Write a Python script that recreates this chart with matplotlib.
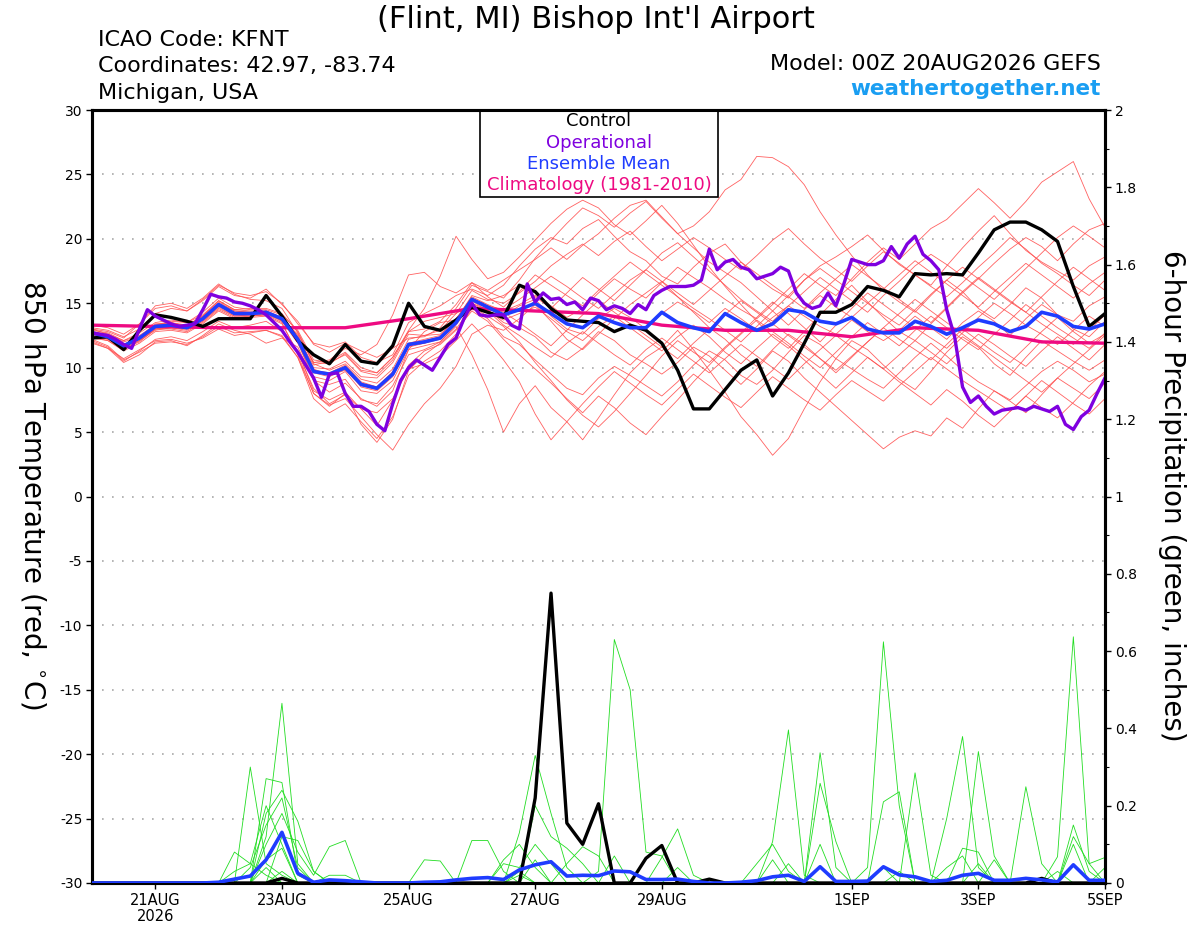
import numpy as np
import matplotlib
matplotlib.use("Agg")
import matplotlib.pyplot as plt
from matplotlib.patches import Rectangle

plt.rcParams['font.family'] = ['DejaVu Sans']

# ---- data (6-hourly from 00Z 20AUG2026 unless noted) ----
CONTROL_T = [
    12.3, 12.4, 11.4, 12.9, 14.1, 13.9, 13.6, 13.2, 13.8, 13.8, 13.8, 15.6, 14.0,
    12.1, 11.0, 10.3, 11.8, 10.5, 10.3, 11.7, 15.0, 13.2, 12.9, 13.7, 14.7, 14.3,
    13.9, 16.4, 15.9, 14.6, 13.7, 13.6, 13.5, 12.8, 13.3, 12.9, 11.9, 9.8, 6.8,
    6.8, 8.3, 9.8, 10.6, 7.8, 9.6, 11.9, 14.3, 14.3, 14.9, 16.3, 16.0, 15.5,
    17.3, 17.2, 17.3, 17.2, 18.9, 20.7, 21.3, 21.3, 20.7, 19.8, 16.3, 13.2, 14.2,
]

MEAN_T = [
    12.7, 12.4, 11.7, 12.3, 13.2, 13.3, 13.1, 13.8, 14.9, 14.2, 14.2, 14.3, 13.8,
    12.2, 9.7, 9.5, 10.0, 8.7, 8.4, 9.5, 11.8, 12.0, 12.3, 13.5, 15.3, 14.7,
    14.1, 14.5, 15.0, 14.2, 13.4, 13.1, 14.0, 13.5, 13.1, 13.1, 14.3, 13.5, 13.1,
    12.8, 14.2, 13.5, 12.9, 13.4, 14.5, 14.3, 13.6, 13.4, 13.9, 13.0, 12.7, 12.7,
    13.6, 13.2, 12.6, 13.1, 13.7, 13.4, 12.8, 13.2, 14.3, 14.0, 13.2, 13.0, 13.4,
]

# operational run is 3-hourly
OPER_T = [
    12.7, 12.6, 12.5, 12.2, 11.8, 11.5, 13.0, 14.5, 14.0, 13.7,
    13.4, 13.2, 13.3, 13.4, 14.5, 15.7, 15.5, 15.4, 15.1, 15.0,
    14.8, 14.5, 14.1, 13.5, 12.9, 12.0, 11.2, 10.2, 9.2, 7.7,
    9.5, 9.6, 8.0, 7.0, 7.0, 6.6, 5.6, 5.1, 7.2, 9.0,
    10.0, 10.6, 10.2, 9.8, 10.8, 11.8, 12.3, 13.8, 15.0, 14.1,
    14.0, 14.1, 14.1, 13.3, 13.0, 16.5, 15.1, 15.8, 15.3, 15.4,
    14.9, 15.1, 14.5, 15.4, 15.2, 14.5, 14.8, 14.6, 14.2, 14.9,
    14.5, 15.6, 16.0, 16.3, 16.3, 16.3, 16.4, 16.8, 19.2, 17.6,
    18.2, 18.4, 17.8, 17.6, 16.9, 17.1, 17.3, 17.8, 17.5, 15.8,
    15.0, 14.6, 14.8, 15.8, 14.8, 16.5, 18.4, 18.2, 18.0, 18.0,
    18.3, 19.4, 18.5, 19.6, 20.2, 18.8, 18.3, 17.6, 14.5, 12.4,
    8.5, 7.3, 7.8, 7.0, 6.4, 6.7, 6.8, 6.9, 6.7, 7.0,
    6.8, 6.6, 7.0, 5.6, 5.2, 6.2, 6.7, 8.0, 9.2,
]

# climatology is daily
CLIMO_T = [13.3, 13.2, 13.1, 13.1, 13.1, 13.8, 14.6, 14.4, 14.2,
           13.3, 12.9, 12.9, 12.4, 13.1, 12.9, 12.0, 11.9]

MEMBERS_T = [
    [13.0, 12.8, 12.3, 13.4, 14.6, 14.8, 14.4, 15.3, 16.4, 15.8, 15.6, 15.9, 15.0,
     13.4, 11.9, 11.6, 12.0, 10.8, 10.4, 11.0, 13.5, 14.2, 14.8, 15.6, 16.1, 15.6,
     16.4, 17.9, 19.2, 20.1, 19.6, 20.8, 21.5, 20.2, 19.0, 18.3, 17.1, 16.5, 17.8,
     18.9, 19.6, 18.2, 17.0, 16.1, 15.4, 16.8, 17.9, 18.6, 19.4, 20.3, 19.1, 18.0,
     17.2, 16.4, 17.9, 19.3, 20.6, 21.8, 20.4, 19.1, 18.2, 17.5, 16.8, 17.9, 18.6],
    [12.2, 11.7, 10.6, 11.2, 11.9, 12.0, 11.8, 12.4, 13.2, 12.7, 12.8, 12.9, 12.4,
     10.8, 7.6, 6.5, 7.2, 5.8, 4.5, 6.2, 9.4, 10.5, 11.3, 12.6, 14.6, 13.8,
     12.4, 11.8, 10.6, 9.5, 8.4, 7.9, 9.2, 10.1, 9.4, 8.6, 7.8, 8.9, 10.2,
     11.3, 10.6, 9.4, 8.7, 9.8, 11.2, 12.5, 11.8, 10.7, 9.9, 9.1, 8.4, 9.6,
     10.8, 11.9, 10.9, 9.8, 8.9, 8.2, 7.5, 8.6, 9.7, 10.5, 9.8, 8.9, 9.5],
    [13.1, 12.9, 12.4, 13.0, 14.2, 14.6, 14.4, 15.2, 16.3, 15.6, 15.4, 16.1, 14.9,
     13.6, 11.8, 11.2, 11.9, 11.3, 10.8, 11.5, 12.3, 12.4, 13.1, 14.6, 16.4, 15.9,
     15.4, 16.8, 18.5, 19.9, 21.2, 22.4, 21.8, 20.9, 22.0, 22.9, 21.6, 20.4, 21.0,
     22.1, 23.8, 24.6, 26.4, 26.3, 25.6, 24.2, 22.1, 20.3, 18.7, 17.2, 16.0, 15.1,
     14.3, 15.6, 16.8, 15.9, 14.6, 13.8, 14.9, 16.2, 15.4, 14.1, 13.6, 14.8, 15.5],
    [12.0, 11.5, 10.4, 11.0, 12.0, 12.1, 11.7, 12.5, 13.4, 12.9, 12.6, 11.9, 12.3,
     11.6, 9.0, 8.7, 9.1, 7.5, 7.2, 8.6, 11.0, 11.4, 12.0, 13.2, 11.0, 8.3,
     5.0, 7.2, 8.6, 6.9, 5.8, 4.4, 6.1, 7.9, 9.6, 10.8, 11.6, 12.9, 11.4,
     9.8, 8.1, 6.2, 4.8, 3.2, 4.5, 6.8, 8.9, 10.7, 12.1, 11.4, 10.2, 9.1,
     8.3, 9.7, 11.2, 12.4, 11.6, 10.3, 9.4, 10.8, 12.1, 11.3, 10.5, 9.8, 10.6],
    [12.6, 12.3, 11.6, 12.2, 13.0, 13.1, 13.0, 13.6, 14.7, 14.0, 14.1, 14.4, 13.9,
     12.3, 9.8, 9.6, 10.2, 8.9, 8.5, 9.7, 11.9, 12.2, 12.5, 13.8, 15.5, 14.9,
     14.4, 14.9, 15.6, 14.8, 13.9, 14.6, 15.8, 16.9, 16.1, 15.4, 16.6, 17.8, 17.0,
     16.2, 15.3, 14.5, 13.8, 14.9, 16.1, 17.3, 16.4, 15.6, 16.9, 18.2, 19.3, 18.4,
     19.6, 20.8, 21.5, 22.7, 23.9, 22.8, 21.6, 22.9, 24.4, 25.2, 26.0, 23.1, 20.9],
    [12.9, 12.7, 12.1, 12.5, 13.3, 13.6, 13.5, 14.1, 15.2, 14.5, 14.4, 14.4, 13.6,
     11.9, 9.3, 9.0, 9.7, 8.2, 8.0, 9.0, 11.4, 11.7, 12.0, 13.3, 15.0, 14.5,
     13.5, 13.1, 12.4, 11.2, 10.6, 11.5, 12.8, 12.1, 11.0, 10.3, 9.5, 10.4, 11.6,
     10.9, 9.8, 8.7, 9.9, 11.3, 10.5, 9.2, 8.1, 7.0, 5.9, 4.8, 3.7, 4.6,
     5.1, 4.7, 6.1, 5.3, 6.8, 8.2, 7.4, 6.5, 7.9, 9.2, 8.4, 7.6, 8.8],
    [12.5, 12.2, 11.5, 12.0, 13.0, 13.2, 13.1, 13.9, 15.0, 14.4, 14.3, 14.4, 13.9,
     12.4, 9.9, 9.4, 9.8, 8.6, 8.3, 9.4, 11.7, 11.9, 12.2, 13.4, 15.2, 14.6,
     14.0, 14.8, 15.3, 14.0, 13.0, 12.6, 13.8, 14.6, 13.9, 13.0, 14.2, 15.1, 14.4,
     13.5, 14.6, 13.8, 12.9, 13.9, 14.8, 14.0, 13.2, 12.6, 13.7, 12.8, 12.1, 12.9,
     14.0, 13.1, 12.2, 13.5, 14.4, 13.6, 12.5, 13.8, 14.9, 14.1, 13.0, 12.4, 13.6],
    [13.3, 13.1, 12.6, 13.4, 14.8, 15.0, 14.6, 15.4, 16.5, 15.7, 15.3, 15.2, 14.6,
     12.7, 10.4, 10.3, 11.1, 9.8, 9.6, 10.8, 12.9, 14.6, 17.1, 20.2, 18.4, 16.9,
     17.4, 18.6, 19.9, 21.2, 22.3, 23.0, 22.4, 21.1, 20.3, 21.4, 22.6, 21.2, 19.5,
     17.8, 16.3, 14.9, 13.6, 12.4, 11.5, 12.8, 14.1, 15.3, 16.4, 15.1, 13.9, 12.8,
     12.1, 13.4, 14.6, 15.8, 16.9, 18.1, 19.2, 20.1, 19.4, 18.3, 19.6, 20.7, 21.2],
    [12.3, 12.1, 11.4, 12.1, 13.0, 13.0, 12.8, 13.5, 14.5, 13.9, 14.0, 14.1, 13.5,
     11.0, 8.0, 7.0, 8.0, 5.6, 4.2, 6.0, 9.8, 11.0, 11.9, 13.0, 14.7, 14.0,
     13.2, 12.0, 10.4, 9.0, 7.5, 6.3, 5.4, 6.6, 8.0, 9.4, 10.9, 12.1, 11.2,
     10.4, 11.6, 12.7, 13.9, 15.1, 14.2, 13.1, 12.0, 13.3, 14.6, 15.8, 14.9, 14.0,
     13.1, 12.3, 11.5, 12.7, 13.9, 15.0, 14.2, 13.3, 12.6, 11.8, 12.9, 14.0, 13.2],
    [11.9, 11.5, 10.7, 11.4, 12.1, 12.2, 11.9, 12.3, 13.0, 12.5, 12.7, 12.9, 12.5,
     10.8, 8.0, 7.1, 7.6, 6.2, 4.8, 3.6, 5.6, 7.2, 8.4, 10.1, 12.6, 13.3,
     12.9, 13.8, 14.9, 13.6, 12.2, 11.4, 12.6, 13.8, 14.9, 15.8, 16.7, 15.5, 14.3,
     13.1, 12.2, 11.0, 10.1, 11.4, 12.6, 11.8, 10.7, 9.6, 10.8, 12.0, 13.1, 12.2,
     11.4, 10.6, 11.8, 13.0, 12.1, 11.2, 10.4, 11.6, 12.8, 13.9, 12.8, 11.9, 12.6],
    [12.8, 12.4, 11.8, 12.4, 13.4, 13.5, 13.3, 14.0, 15.2, 14.5, 14.6, 14.6, 14.2,
     12.8, 10.3, 9.8, 10.3, 9.1, 8.8, 9.9, 12.2, 12.5, 12.9, 14.2, 16.0, 15.3,
     15.0, 15.8, 16.7, 17.9, 18.8, 19.6, 18.7, 19.8, 20.6, 19.4, 18.3, 19.2, 20.1,
     19.3, 18.4, 17.6, 18.7, 19.9, 20.8, 19.6, 18.5, 17.6, 16.7, 17.9, 19.0, 18.1,
     17.2, 16.3, 15.5, 16.6, 17.8, 18.9, 20.1, 19.2, 18.1, 17.3, 16.4, 15.6, 16.8],
    [12.6, 12.2, 11.6, 12.1, 12.9, 13.1, 12.9, 13.6, 14.6, 14.0, 14.0, 14.1, 13.7,
     12.3, 10.2, 10.5, 11.2, 10.0, 9.6, 10.8, 12.8, 13.6, 13.9, 14.2, 15.0, 14.3,
     13.7, 14.2, 14.7, 13.8, 12.8, 12.1, 13.2, 14.0, 13.1, 12.2, 11.3, 12.4, 13.3,
     12.4, 11.2, 10.3, 11.5, 12.6, 11.7, 10.6, 9.5, 8.4, 9.6, 10.8, 9.9, 8.9,
     8.0, 7.1, 8.3, 7.4, 6.3, 5.4, 6.6, 7.8, 6.9, 6.1, 7.3, 8.6, 9.7],
    [12.7, 12.5, 11.8, 12.3, 13.1, 13.4, 13.3, 14.0, 14.8, 14.1, 14.0, 14.2, 13.9,
     12.5, 10.0, 9.9, 10.5, 9.3, 9.2, 10.4, 12.6, 12.5, 12.6, 13.7, 15.4, 14.8,
     14.5, 15.3, 16.2, 17.1, 16.3, 15.4, 14.6, 15.7, 16.8, 17.6, 18.9, 19.7, 18.6,
     17.5, 16.4, 15.3, 14.4, 13.6, 14.8, 15.9, 17.0, 16.1, 15.2, 14.3, 15.6, 16.7,
     17.9, 18.8, 18.0, 17.1, 16.2, 15.3, 16.5, 17.7, 18.9, 20.1, 21.0, 20.2, 19.3],
    [12.4, 12.1, 11.3, 11.9, 12.8, 12.9, 12.7, 13.4, 14.4, 13.8, 13.9, 14.0, 13.4,
     11.2, 8.4, 7.2, 7.9, 6.8, 5.5, 7.5, 10.2, 11.3, 11.8, 12.9, 14.4, 13.6,
     12.2, 11.0, 9.9, 8.8, 7.6, 6.5, 7.8, 6.9, 5.7, 4.8, 6.2, 7.5, 8.9,
     10.2, 11.5, 12.6, 13.7, 12.8, 11.9, 10.9, 10.0, 11.2, 12.4, 13.5, 12.6, 11.7,
     12.9, 14.0, 13.1, 12.2, 11.4, 12.6, 13.7, 14.9, 14.0, 13.1, 12.3, 11.5, 12.7],
    [13.0, 12.6, 12.1, 12.7, 13.5, 13.7, 13.5, 14.3, 15.4, 14.7, 14.5, 14.5, 14.1,
     12.9, 10.6, 10.4, 11.0, 9.7, 9.4, 10.6, 12.8, 13.0, 13.6, 14.9, 16.6, 16.0,
     16.8, 17.6, 18.4, 19.3, 18.4, 19.5, 20.4, 21.6, 22.6, 23.0, 21.7, 20.4, 19.3,
     18.2, 17.4, 16.6, 15.5, 14.4, 13.3, 14.5, 15.6, 14.7, 13.9, 15.0, 16.1, 17.2,
     18.3, 17.4, 16.5, 15.6, 14.7, 15.9, 17.0, 18.1, 17.2, 16.3, 15.4, 16.5, 17.4],
    [12.5, 12.3, 11.6, 12.2, 13.1, 13.2, 13.0, 13.7, 14.8, 14.1, 14.1, 14.2, 13.6,
     12.1, 9.6, 9.3, 9.9, 8.5, 8.2, 9.3, 11.6, 11.9, 12.3, 13.5, 15.2, 14.4,
     13.3, 12.5, 11.6, 10.8, 11.9, 12.8, 11.9, 11.0, 10.2, 11.4, 12.3, 11.4, 10.5,
     9.6, 10.7, 11.8, 10.9, 10.0, 9.1, 10.3, 11.4, 12.5, 11.6, 10.8, 9.9, 11.0,
     12.1, 11.2, 10.3, 11.5, 12.6, 11.8, 10.9, 10.1, 11.3, 12.4, 11.5, 10.6, 11.8],
    [12.8, 12.6, 12.0, 12.4, 13.3, 13.5, 13.2, 14.0, 15.1, 14.4, 14.3, 14.3, 13.7,
     12.6, 10.4, 10.6, 11.5, 11.0, 11.8, 14.1, 17.2, 17.4, 16.3, 15.8, 16.6, 15.5,
     14.7, 15.9, 17.2, 16.4, 15.6, 14.8, 16.0, 17.1, 18.2, 17.3, 16.4, 15.5, 14.6,
     13.8, 12.9, 12.0, 13.2, 14.4, 15.6, 16.8, 17.7, 16.8, 15.9, 15.0, 14.1, 13.3,
     14.5, 15.7, 16.8, 17.8, 16.9, 16.0, 15.1, 14.3, 13.4, 12.6, 11.8, 12.9, 14.1],
    [12.1, 11.6, 10.5, 11.3, 12.2, 12.4, 12.1, 12.8, 13.6, 13.1, 13.3, 13.6, 12.8,
     11.3, 8.2, 7.5, 8.1, 6.8, 6.5, 7.6, 9.9, 10.3, 10.9, 12.1, 13.4, 12.1,
     10.6, 8.9, 6.4, 4.4, 5.8, 7.2, 8.5, 9.7, 8.8, 7.9, 7.1, 8.3, 9.5,
     8.6, 7.7, 6.9, 8.1, 9.3, 8.4, 7.5, 6.7, 7.9, 9.0, 8.2, 7.4, 8.6,
     9.7, 10.8, 9.9, 9.0, 8.2, 7.4, 6.6, 7.8, 9.0, 8.1, 7.2, 6.4, 7.6],
    [12.6, 12.4, 11.7, 12.3, 13.3, 13.4, 13.2, 13.8, 15.0, 14.3, 14.2, 14.3, 13.8,
     12.0, 9.0, 8.1, 8.8, 7.6, 7.0, 8.2, 11.4, 12.8, 13.5, 13.7, 15.6, 15.2,
     15.6, 16.4, 15.5, 14.6, 15.8, 17.0, 16.1, 15.2, 16.4, 17.6, 16.7, 15.8, 14.9,
     16.0, 17.1, 18.2, 17.3, 16.4, 15.5, 14.6, 15.8, 16.9, 18.0, 17.1, 16.2, 15.3,
     14.4, 13.5, 14.7, 15.9, 17.0, 16.1, 15.2, 14.3, 15.5, 16.7, 17.8, 16.9, 16.0],
    [12.7, 12.3, 11.7, 12.2, 13.1, 13.2, 13.1, 13.8, 14.9, 14.2, 14.2, 14.3, 13.8,
     12.2, 9.7, 9.4, 10.1, 8.8, 8.5, 9.6, 11.9, 12.1, 12.4, 13.6, 15.4, 14.8,
     14.3, 13.5, 12.6, 11.7, 12.9, 14.1, 15.2, 14.3, 13.4, 12.5, 11.6, 10.7, 11.9,
     13.0, 14.1, 15.2, 14.3, 13.4, 12.5, 11.6, 10.7, 9.8, 10.9, 12.0, 13.1, 14.2,
     15.3, 14.4, 13.5, 12.6, 11.7, 10.8, 9.9, 9.0, 8.1, 9.2, 10.3, 11.4, 12.5],
]

# 6-hour precipitation (inches): step index -> amount, zero elsewhere
CONTROL_P = {12: 0.012, 28: 0.22, 29: 0.75, 30: 0.155, 31: 0.10, 32: 0.205,
             35: 0.064, 36: 0.097, 39: 0.01, 60: 0.012}

MEAN_P = [
    0, 0, 0, 0, 0, 0, 0, 0, 0.002, 0.01, 0.018, 0.06, 0.131,
    0.025, 0.002, 0.008, 0.006, 0.003, 0, 0, 0, 0.002, 0.003, 0.008, 0.012, 0.014,
    0.009, 0.034, 0.047, 0.055, 0.018, 0.02, 0.019, 0.031, 0.029, 0.009, 0.009, 0.01, 0.004,
    0, 0, 0.002, 0.006, 0.016, 0.02, 0.004, 0.042, 0.004, 0.004, 0.005, 0.042, 0.021,
    0.016, 0.004, 0.007, 0.02, 0.025, 0.007, 0.007, 0.012, 0.008, 0.003, 0.047, 0.007, 0.007,
]

MEMBERS_P = [
    {9: 0.08, 10: 0.05, 11: 0.02, 43: 0.107, 44: 0.396, 45: 0.02},
    {10: 0.30, 11: 0.05, 12: 0.02, 46: 0.337, 47: 0.04},
    {11: 0.27, 12: 0.26, 13: 0.02, 46: 0.258, 47: 0.107},
    {11: 0.12, 12: 0.465, 13: 0.05, 27: 0.03},
    {11: 0.18, 12: 0.24, 13: 0.16, 14: 0.03, 49: 0.04, 50: 0.624, 51: 0.2},
    {10: 0.04, 11: 0.15, 12: 0.22, 13: 0.04, 50: 0.21, 51: 0.236},
    {9: 0.03, 10: 0.05, 11: 0.2, 12: 0.1, 52: 0.285, 53: 0.02},
    {11: 0.1, 12: 0.18, 13: 0.08, 14: 0.02, 15: 0.094, 16: 0.11,
     54: 0.167, 55: 0.379, 56: 0.04},
    {12: 0.12, 13: 0.11, 14: 0.03, 56: 0.34, 57: 0.07},
    {11: 0.06, 12: 0.09, 15: 0.02, 16: 0.02, 59: 0.249, 60: 0.05},
    {21: 0.06, 22: 0.057, 61: 0.068, 62: 0.637, 63: 0.05},
    {24: 0.11, 25: 0.11, 26: 0.03, 62: 0.15, 63: 0.03},
    {27: 0.13, 28: 0.33, 29: 0.18, 30: 0.04, 62: 0.12, 63: 0.05, 64: 0.066},
    {28: 0.2, 29: 0.12, 30: 0.09, 31: 0.05, 42: 0.05, 43: 0.1, 44: 0.03},
    {32: 0.03, 33: 0.63, 34: 0.5, 35: 0.08, 36: 0.07},
    {26: 0.05, 27: 0.04, 28: 0.1, 29: 0.05, 43: 0.06, 46: 0.1, 50: 0.04,
     55: 0.09, 56: 0.08},
    {30: 0.05, 31: 0.094, 32: 0.07, 36: 0.066, 37: 0.14, 38: 0.02},
    {26: 0.06, 27: 0.1, 28: 0.04, 54: 0.04, 55: 0.07, 61: 0.03, 64: 0.04},
    {12: 0.03, 27: 0.02, 44: 0.05, 56: 0.05, 62: 0.1},
    {11: 0.04, 28: 0.06, 33: 0.07, 37: 0.04, 51: 0.03, 57: 0.06},
]

TICK_HOURS = [24, 72, 120, 168, 216, 288, 336, 384]
TICK_LABELS = ["21AUG\n2026", "23AUG", "25AUG", "27AUG", "29AUG", "1SEP", "3SEP", "5SEP"]

N_STEPS = 65

RED = "#ff5050"
GREEN = "#22dd22"
PURPLE = "#7f00df"
BLUE = "#1f3cff"
PINK = "#ee0a82"


def hours(vals, step):
    return np.arange(len(vals)) * step


def sparse_to_series(d):
    arr = np.zeros(N_STEPS)
    for k, v in d.items():
        arr[k] = v
    return arr


W, H = 1200, 927
fig = plt.figure(figsize=(W / 100, H / 100), dpi=100)
ax = fig.add_axes([92 / W, 44 / H, 1013 / W, 773 / H])
ax2 = ax.twinx()

# temperature spaghetti
for m in MEMBERS_T:
    ax.plot(hours(m, 6), m, color=RED, lw=0.6, alpha=0.9, zorder=2)
ax.plot(hours(CLIMO_T, 24), CLIMO_T, color=PINK, lw=2.4, zorder=4)
ax.plot(hours(CONTROL_T, 6), CONTROL_T, color="black", lw=2.4, zorder=5)
ax.plot(hours(MEAN_T, 6), MEAN_T, color=BLUE, lw=2.6, zorder=6)
ax.plot(hours(OPER_T, 3), OPER_T, color=PURPLE, lw=2.4, zorder=7)

# precipitation spaghetti
for d in MEMBERS_P:
    p = sparse_to_series(d)
    ax2.plot(hours(p, 6), p, color=GREEN, lw=0.6, zorder=2)
cp = sparse_to_series(CONTROL_P)
ax2.plot(hours(cp, 6), cp, color="black", lw=2.4, zorder=5)
ax2.plot(hours(MEAN_P, 6), MEAN_P, color=BLUE, lw=2.6, zorder=6)

ax.set_xlim(0, 384)
ax.set_ylim(-30, 30)
ax2.set_ylim(0, 2)

ax.set_yticks(range(-30, 31, 5))
ax.set_yticklabels([str(v) for v in range(-30, 31, 5)], fontsize=10)
ax.yaxis.grid(True, linestyle=(0, (1, 5)), color="#a8a8a8", lw=1.2)
ax.set_axisbelow(True)

ax.set_xticks(TICK_HOURS)
ax.set_xticklabels(TICK_LABELS, fontsize=10.5, linespacing=1.1)

rt = np.round(np.arange(0, 2.01, 0.2), 1)
ax2.set_yticks(rt)
ax2.set_yticklabels([f"{v:g}" for v in rt], fontsize=10)
ax2.set_yticks(np.arange(0.1, 2.0, 0.2), minor=True)

for a in (ax, ax2):
    a.tick_params(direction="out", length=4, width=1, pad=3)
    a.tick_params(which="minor", direction="out", length=3, width=0.8)
    for s in a.spines.values():
        s.set_linewidth(2.2)

# legend box
ax.add_patch(Rectangle(((480 - 92) / 1013, (883 - 197) / 773),
                       238 / 1013, 87 / 773, transform=ax.transAxes,
                       facecolor="white", edgecolor="black", lw=1.2, zorder=20))
leg = [("Control", "black"), ("Operational", PURPLE),
       ("Ensemble Mean", BLUE), ("Climatology (1981-2010)", PINK)]
for k, (txt, col) in enumerate(leg):
    fig.text(599 / W, 1 - (121 + 21.5 * k) / H, txt, color=col, fontsize=13,
             ha="center", va="center", zorder=30)

# header texts
fig.text(596 / W, 1 - 19 / H, "(Flint, MI) Bishop Int'l Airport",
         fontsize=22, ha="center", va="center")
fig.text(98 / W, 1 - 40 / H, "ICAO Code: KFNT", fontsize=16, va="center")
fig.text(98 / W, 1 - 66 / H, "Coordinates: 42.97, -83.74", fontsize=16, va="center")
fig.text(98 / W, 1 - 93 / H, "Michigan, USA", fontsize=16, va="center")
fig.text(1101 / W, 1 - 64 / H, "Model: 00Z 20AUG2026 GEFS", fontsize=16,
         ha="right", va="center")
fig.text(1101 / W, 1 - 89 / H, "weathertogether.net", fontsize=15.5,
         fontweight="bold", color="#1a9ef2", ha="right", va="center")

fig.text(32 / W, 1 - 495 / H, "850 hPa Temperature (red, $^{\\circ}$C)",
         fontsize=20, rotation=270, ha="center", va="center")
fig.text(1172 / W, 1 - 496 / H, "6-hour Precipitation (green, inches)",
         fontsize=20, rotation=270, ha="center", va="center")

fig.savefig("out.png", dpi=100, facecolor="white")
